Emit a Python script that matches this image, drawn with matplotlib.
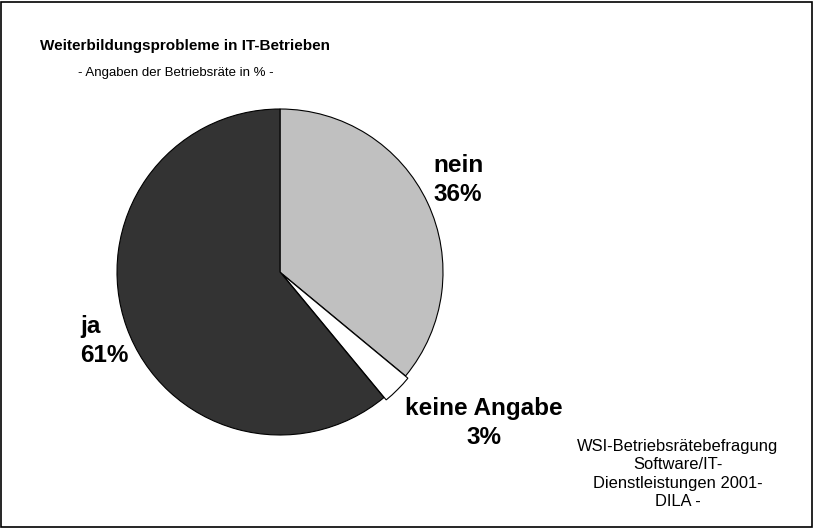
import matplotlib.pyplot as plt
from matplotlib.patches import Rectangle

plt.rcParams['font.family'] = ['Liberation Sans', 'DejaVu Sans']

# data
labels = ["nein", "keine Angabe", "ja"]
values = [36, 3, 61]
colors = ["#c0c0c0", "#ffffff", "#333333"]

W, H = 814, 528
fig = plt.figure(figsize=(W / 100, H / 100), dpi=100)

# frame around the whole picture
fig.patches.append(Rectangle((1 / W, 1 / H), 1 - 3 / W, 1 - 3 / H, transform=fig.transFigure,
                             fill=False, edgecolor="black", linewidth=1.2))

# pie centre ~ (280, 272) px, radius ~163 px
cx, cy, r = 280, 272, 163
ax = fig.add_axes([(cx - r) / W, (H - cy - r) / H, 2 * r / W, 2 * r / H])
wedges, _ = ax.pie(values, colors=colors, startangle=90, counterclock=False,
                   explode=[0, 0.02, 0],
                   wedgeprops=dict(edgecolor="black", linewidth=0.8))
for w in wedges:
    w.set_clip_on(False)
ax.set_xlim(-1, 1)
ax.set_ylim(-1, 1)
ax.set_aspect("equal")
ax.axis("off")

def px(x, y):
    return x / W, 1 - y / H

fig.text(*px(40, 46), "Weiterbildungsprobleme in IT-Betrieben", fontsize=11, fontweight="bold",
         ha="left", va="center")
fig.text(*px(78, 73), "- Angaben der Betriebsräte in % -", fontsize=9.5,
         ha="left", va="center")

pct = ["%d%%" % v for v in values]
fig.text(*px(458, 180), labels[0] + "\n" + pct[0], fontsize=17.5, fontweight="bold",
         ha="center", va="center", multialignment="center", linespacing=1.3)
fig.text(*px(80, 341), labels[2] + "\n" + pct[2], fontsize=17.5, fontweight="bold",
         ha="left", va="center", multialignment="left", linespacing=1.3)
fig.text(*px(484, 423), labels[1] + "\n" + pct[1], fontsize=17.5, fontweight="bold",
         ha="center", va="center", multialignment="center", linespacing=1.3)

fig.text(*px(678, 474), "WSI-Betriebsrätebefragung\nSoftware/IT-\nDienstleistungen 2001-\nDILA -",
         fontsize=11.9, ha="center", va="center", multialignment="center", linespacing=1.3)

fig.savefig("out.png", dpi=100)
